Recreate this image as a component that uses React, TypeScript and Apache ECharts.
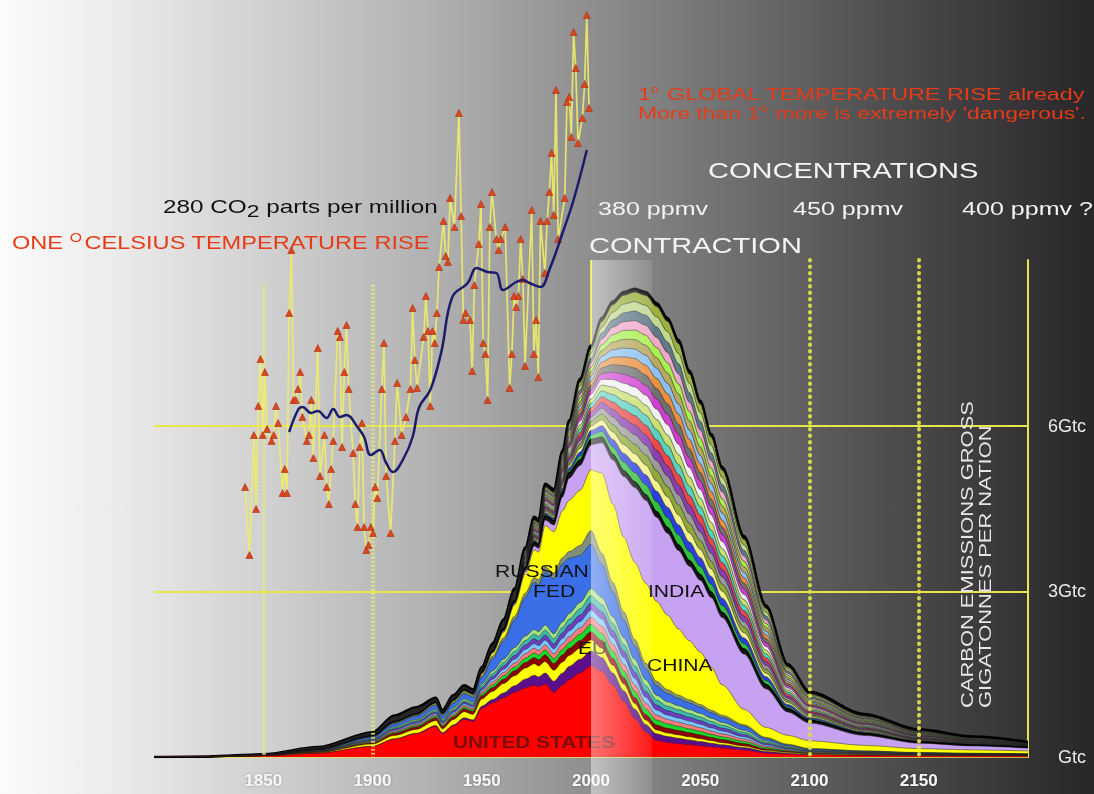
import React, { useEffect, useRef } from 'react';
import * as echarts from 'echarts';

const FONT = "'Liberation Sans', Arial, Helvetica, sans-serif";

// ---- emissions per nation (GtC), bottom to top ----
const years = [1800, 1825, 1850, 1875, 1900, 1910, 1920, 1929, 1932, 1937, 1942, 1946, 1950, 1955, 1960, 1965, 1970, 1974, 1976, 1979, 1983, 1987, 1990, 1995, 2000, 2005, 2010, 2015, 2020, 2025, 2030, 2035, 2040, 2045, 2050, 2055, 2060, 2070, 2080, 2090, 2100, 2125, 2150, 2175, 2200];
const unitedStates = [0, 0.005, 0.02, 0.07, 0.19, 0.32, 0.42, 0.55, 0.42, 0.56, 0.68, 0.64, 0.88, 0.98, 1.07, 1.17, 1.25, 1.3, 1.27, 1.32, 1.17, 1.3, 1.4, 1.52, 1.65, 1.55, 1.3, 1.0, 0.7, 0.45, 0.3, 0.26, 0.24, 0.22, 0.2, 0.18, 0.16, 0.12, 0.07, 0.05, 0.035, 0.028, 0.02, 0.018, 0.016];
const purpleNation = [0, 0, 0, 0, 0.005, 0.01, 0.01, 0.02, 0.02, 0.02, 0.03, 0.03, 0.04, 0.06, 0.09, 0.12, 0.16, 0.18, 0.18, 0.2, 0.2, 0.22, 0.24, 0.25, 0.27, 0.25, 0.22, 0.2, 0.17, 0.14, 0.12, 0.11, 0.1, 0.09, 0.08, 0.07, 0.06, 0.05, 0.03, 0.02, 0.012, 0.008, 0.006, 0.005, 0.004];
const yellowNation = [0, 0, 0.003, 0.01, 0.04, 0.06, 0.07, 0.09, 0.07, 0.1, 0.11, 0.1, 0.13, 0.15, 0.17, 0.18, 0.2, 0.21, 0.2, 0.21, 0.2, 0.2, 0.2, 0.2, 0.2, 0.17, 0.14, 0.12, 0.1, 0.08, 0.07, 0.065, 0.06, 0.055, 0.05, 0.045, 0.04, 0.03, 0.02, 0.015, 0.01, 0.008, 0.007, 0.006, 0.005];
const darkRedNation = [0, 0, 0.003, 0.01, 0.025, 0.04, 0.045, 0.05, 0.045, 0.05, 0.055, 0.055, 0.06, 0.07, 0.08, 0.09, 0.1, 0.11, 0.11, 0.12, 0.12, 0.13, 0.13, 0.14, 0.15, 0.14, 0.13, 0.12, 0.11, 0.1, 0.09, 0.085, 0.08, 0.075, 0.07, 0.06, 0.055, 0.045, 0.025, 0.018, 0.012, 0.008, 0.006, 0.005, 0.005];
const euStripe = [0, 0, 0.001, 0.005, 0.012, 0.02, 0.022, 0.026, 0.022, 0.027, 0.03, 0.028, 0.035, 0.05, 0.06, 0.07, 0.08, 0.085, 0.085, 0.09, 0.09, 0.1, 0.105, 0.115, 0.13, 0.13, 0.125, 0.12, 0.115, 0.105, 0.09, 0.08, 0.075, 0.07, 0.065, 0.058, 0.052, 0.04, 0.025, 0.015, 0.01, 0.007, 0.005, 0.004, 0.0035];
const russianFed = [0, 0, 0.003, 0.01, 0.03, 0.05, 0.06, 0.07, 0.06, 0.08, 0.09, 0.085, 0.12, 0.22, 0.33, 0.5, 0.7, 0.85, 0.85, 0.95, 1.0, 1.05, 1.0, 0.85, 0.8, 0.6, 0.45, 0.32, 0.24, 0.2, 0.17, 0.15, 0.13, 0.12, 0.11, 0.1, 0.09, 0.07, 0.04, 0.025, 0.015, 0.01, 0.007, 0.006, 0.005];
const greyNation = [0, 0, 0.002, 0.005, 0.01, 0.02, 0.02, 0.025, 0.02, 0.025, 0.03, 0.03, 0.035, 0.05, 0.06, 0.07, 0.08, 0.09, 0.09, 0.1, 0.1, 0.11, 0.12, 0.18, 0.25, 0.2, 0.17, 0.15, 0.12, 0.1, 0.08, 0.07, 0.06, 0.055, 0.05, 0.045, 0.04, 0.03, 0.02, 0.015, 0.01, 0.007, 0.005, 0.004, 0.003];
const china = [0, 0, 0, 0.002, 0.005, 0.01, 0.01, 0.015, 0.012, 0.02, 0.02, 0.02, 0.03, 0.05, 0.1, 0.2, 0.35, 0.5, 0.5, 0.75, 0.75, 0.85, 0.93, 1.0, 1.1, 1.45, 1.42, 1.35, 1.4, 1.45, 1.45, 1.35, 1.2, 1.07, 0.95, 0.78, 0.55, 0.28, 0.18, 0.16, 0.14, 0.1, 0.07, 0.06, 0.05];
const india = [0, 0, 0, 0, 0, 0, 0.002, 0.004, 0.004, 0.005, 0.006, 0.006, 0.01, 0.015, 0.02, 0.03, 0.05, 0.07, 0.07, 0.1, 0.12, 0.25, 0.4, 0.45, 0.45, 0.55, 0.8, 1.1, 1.35, 1.5, 1.52, 1.48, 1.42, 1.35, 1.3, 1.26, 1.22, 1.0, 0.7, 0.42, 0.32, 0.18, 0.1, 0.07, 0.05];
const blackNation = [0, 0, 0, 0, 0.005, 0.008, 0.01, 0.012, 0.01, 0.012, 0.015, 0.015, 0.02, 0.03, 0.04, 0.05, 0.06, 0.07, 0.07, 0.08, 0.08, 0.09, 0.1, 0.1, 0.1, 0.1, 0.1, 0.1, 0.1, 0.1, 0.1, 0.1, 0.1, 0.1, 0.1, 0.1, 0.09, 0.09, 0.08, 0.06, 0.05, 0.035, 0.025, 0.02, 0.018];
const otherNation = [0, 0.0002, 0.0004, 0.0017, 0.0024, 0.0044, 0.0046, 0.0022, 0.0014, 0.0026, 0.0022, 0.0016, 0.0025, 0.0043, 0.006, 0.008, 0.0155, 0.02, 0.0195, 0.026, 0.0255, 0.0345, 0.0445, 0.0705, 0.082, 0.105, 0.1355, 0.159, 0.172, 0.1805, 0.186, 0.187, 0.1825, 0.169, 0.1545, 0.14, 0.1287, 0.0993, 0.069, 0.0379, 0.0236, 0.0157, 0.0095, 0.0061, 0.0033];
const topNation = [0, 0.002, 0.005, 0.01, 0.02, 0.025, 0.03, 0.035, 0.03, 0.035, 0.04, 0.04, 0.045, 0.05, 0.055, 0.06, 0.06, 0.06, 0.06, 0.06, 0.06, 0.06, 0.06, 0.06, 0.06, 0.06, 0.06, 0.06, 0.06, 0.06, 0.06, 0.06, 0.06, 0.06, 0.06, 0.06, 0.06, 0.06, 0.055, 0.05, 0.045, 0.04, 0.035, 0.03, 0.028];

const euStripeColors = ['#19d828', '#ff7c7c', '#7cc6ff', '#6a3fc0', '#3fb8b0', '#a4e27e'];
const otherColors = ['#2fbf3a', '#2a3fe0', '#f4f08a', '#8ea83a', '#9a9a9a', '#8a3fb0', '#e84848', '#5ad0c0', '#c8e070', '#f0f0f0', '#d040d0', '#707070', '#e89040', '#8cc0f0', '#b8a860', '#a8f050', '#f0a8c8', '#607888', '#c0d890', '#9cb040'];

// ---- annual global temperature (°C anomaly, own scale) ----
const tempYears = [1850, 1852, 1854, 1855, 1856, 1857, 1858, 1859, 1860, 1862, 1863, 1864, 1865, 1867, 1868, 1869, 1870, 1871, 1872, 1873, 1874, 1875, 1876, 1878, 1879, 1880, 1881, 1883, 1884, 1886, 1887, 1888, 1889, 1890, 1892, 1893, 1894, 1895, 1896, 1897, 1899, 1900, 1901, 1902, 1903, 1904, 1905, 1906, 1907, 1908, 1909, 1910, 1912, 1913, 1914, 1916, 1918, 1919, 1921, 1923, 1925, 1926, 1927, 1928, 1931, 1932, 1933, 1934, 1935, 1936, 1937, 1938, 1940, 1941, 1942, 1943, 1945, 1947, 1948, 1949, 1950, 1952, 1953, 1954, 1956, 1957, 1958, 1959, 1960, 1961, 1962, 1964, 1965, 1966, 1968, 1970, 1971, 1972, 1973, 1974, 1975, 1976, 1977, 1980, 1981, 1982, 1983, 1984, 1986, 1987, 1988, 1989, 1990, 1991, 1992, 1995, 1996, 1997, 1998, 1999, 2000, 2001, 2003, 2004, 2005, 2006];
const tempValues = [-0.122, -0.258, -0.018, -0.166, 0.04, 0.134, -0.018, 0.108, -0.006, -0.03, -0.018, 0.04, 0.006, -0.134, -0.086, -0.134, 0.226, 0.352, 0.052, 0.052, 0.074, 0.108, 0.018, -0.03, -0.018, 0.052, -0.064, 0.156, -0.1, -0.018, -0.122, -0.156, -0.086, -0.03, 0.19, 0.178, -0.042, 0.108, 0.202, 0.074, -0.054, -0.156, -0.202, -0.042, 0.006, -0.202, -0.248, -0.238, -0.202, -0.214, -0.122, -0.144, 0.074, 0.166, -0.1, -0.214, -0.03, 0.086, -0.018, 0.018, 0.074, 0.236, 0.132, 0.076, 0.178, 0.26, 0.19, 0.04, 0.19, 0.166, 0.226, 0.318, 0.41, 0.34, 0.328, 0.456, 0.398, 0.626, 0.42, 0.212, 0.226, 0.212, 0.11, 0.282, 0.364, 0.444, 0.166, 0.144, 0.052, 0.398, 0.468, 0.374, 0.352, 0.374, 0.398, 0.076, 0.144, 0.26, 0.238, 0.26, 0.374, 0.294, 0.12, 0.432, 0.144, 0.212, 0.098, 0.41, 0.306, 0.41, 0.468, 0.546, 0.422, 0.672, 0.374, 0.456, 0.648, 0.658, 0.578, 0.788, 0.716, 0.566, 0.616, 0.684, 0.822, 0.636];
const smoothYears = [1870, 1874, 1876, 1880, 1883, 1887, 1890, 1893, 1896, 1901, 1904, 1907, 1911, 1914, 1917, 1922, 1926, 1929, 1934, 1939, 1944, 1951, 1955, 1960, 1964, 1967, 1973, 1976, 1979, 1984, 1988, 1994, 1999, 2005];
const smoothValues = [-0.012, 0.032, 0.038, 0.026, 0.03, 0.016, 0.034, 0.018, 0.022, -0.002, -0.022, -0.058, -0.048, -0.074, -0.092, -0.064, -0.022, 0.038, 0.072, 0.148, 0.258, 0.286, 0.316, 0.308, 0.306, 0.272, 0.288, 0.292, 0.286, 0.278, 0.312, 0.386, 0.452, 0.552];

// ---- reference marks ----
const contractionYears = [2000, 2028];
const contractionTop = [9, 9];
const pastYearLines = [1850, 1900];
const pastLineTop = 8.55;
const futureYearLines = [2100, 2150];
const futureLineTop = 9;
const gtcTicks: Record<number, string> = { 0: 'Gtc', 3: '3Gtc', 6: '6Gtc', 9: '' };

export default function App() {
  const ref = useRef<HTMLDivElement>(null);
  useEffect(() => {
    const chart = echarts.init(ref.current!, null, { renderer: 'svg' });

    // layers bottom -> top
    type Layer = { name: string; values: number[]; color: string; line: string; width: number };
    const layers: Layer[] = [];
    const add = (name: string, values: number[], color: string, line = 'rgba(30,30,30,0.8)', width = 0.6) =>
      layers.push({ name, values, color, line, width });
    add('United States', unitedStates, '#ff0000', 'rgba(120,0,0,0.6)');
    add('Nation P', purpleNation, '#5a108a');
    add('Nation Y', yellowNation, '#ffff00');
    add('Nation R', darkRedNation, '#8b0000');
    euStripeColors.forEach((c, k) => add('EU ' + (k + 1), euStripe, c));
    add('Russian Fed', russianFed, '#3a6fe8');
    add('Nation G', greyNation, '#7f8f7a');
    add('China', china, '#ffff00');
    add('India', india, '#c8a2f2');
    add('Nation K', blackNation, '#151515', '#000', 1.5);
    otherColors.forEach((c, k) => add('Other ' + (k + 1), otherNation, c, 'rgba(35,35,35,0.85)', 0.7));
    add('Others top', topNation, '#111111', '#000000', 2.5);

    // cumulative tops; draw highest first so lower layers cover the rest
    const running = years.map(() => 0);
    const cumulative = layers.map((l) => {
      l.values.forEach((v, i) => { running[i] += v; });
      return running.slice();
    });
    const stackSeries = layers
      .map((l, k) => ({
        type: 'line', name: l.name, xAxisIndex: 0, yAxisIndex: 0,
        data: years.map((y, i) => [y, cumulative[k][i]]),
        symbol: 'none', smooth: 0.3, smoothMonotone: 'x', silent: true,
        lineStyle: { color: l.line, width: l.width },
        areaStyle: { color: l.color, opacity: 1, origin: 'start' }, z: 2,
      }))
      .reverse();

    const pastStyle = { type: [2, 2], width: 4, color: 'rgba(238,238,110,0.75)' };
    const futureStyle = { type: [0.5, 6], width: 4, cap: 'round', color: 'rgba(222,222,70,0.95)' };
    const markData: any[] = [
      ...pastYearLines.map((y) => [{ coord: [y, pastLineTop], lineStyle: pastStyle }, { coord: [y, 0] }]),
      ...futureYearLines.map((y) => [{ coord: [y, futureLineTop], lineStyle: futureStyle }, { coord: [y, 0] }]),
    ];

    const text = (t: string, x: number, y: number, size: number, fill: string, extra: any = {}, z = 20, scaleX = 1.32) => ({
      type: 'text', x, y, scaleX, z, silent: true,
      style: { text: t, fontSize: size, fill, fontFamily: FONT, align: 'left', verticalAlign: 'middle', ...extra },
    });

    const redRich = {
      n: { fontSize: 16, fill: '#e63b16', fontFamily: FONT },
      s: { fontSize: 10, fill: '#e63b16', fontFamily: FONT, padding: [0, 1, 9, 0] },
    };

    const option: any = {
      animation: false,
      grid: [
        { left: 154, right: 66, top: 260, bottom: 37 },
        { left: 154, right: 66, top: 0, bottom: 0 },
      ],
      xAxis: [
        {
          gridIndex: 0, type: 'value', min: 1800, max: 2200, interval: 50,
          axisLine: { lineStyle: { color: '#e6e64a', width: 1.5 } },
          axisTick: { show: false },
          axisLabel: {
            margin: 15, color: '#f6f6f6', fontSize: 17, fontWeight: 'bold', fontFamily: FONT,
            textShadowColor: 'rgba(0,0,0,0.35)', textShadowBlur: 2,
            formatter: (v: number) => (v === 1800 || v === 2200 ? '' : String(v)),
          },
          splitLine: {
            show: true,
            lineStyle: { width: 2, color: ['rgba(0,0,0,0)', 'rgba(0,0,0,0)', 'rgba(0,0,0,0)', 'rgba(0,0,0,0)', '#e6e64a', 'rgba(0,0,0,0)', 'rgba(0,0,0,0)', 'rgba(0,0,0,0)', 'rgba(0,0,0,0)'] },
          },
        },
        { gridIndex: 1, type: 'value', min: 1800, max: 2200, show: false },
        { gridIndex: 1, type: 'value', min: 1808.7, max: 2205.1, show: false },
      ],
      yAxis: [
        {
          gridIndex: 0, type: 'value', position: 'right', min: 0, max: 9, interval: 3,
          axisLine: { show: true, lineStyle: { color: '#e6e64a', width: 2 } },
          axisTick: { show: false },
          axisLabel: {
            margin: 58, align: 'right', color: '#ececec', fontSize: 18, fontFamily: FONT,
            formatter: (v: number) => gtcTicks[v] ?? '',
          },
          splitLine: { show: true, lineStyle: { width: 2, color: ['rgba(0,0,0,0)', '#e6e64a', '#e6e64a', 'rgba(0,0,0,0)'] } },
        },
        { gridIndex: 1, type: 'value', min: -0.67, max: 13.708, show: false },
        { gridIndex: 1, type: 'value', min: -0.736, max: 0.852, show: false },
      ],
      graphic: [
        {
          type: 'rect', z: -100, silent: true,
          shape: { x: 0, y: 0, width: 1094, height: 794 },
          style: {
            fill: new echarts.graphic.LinearGradient(0, 0, 1, 0, [
              { offset: 0, color: '#fbfbfb' },
              { offset: 0.1, color: '#ececec' },
              { offset: 0.25, color: '#cfcfcf' },
              { offset: 0.4, color: '#b0b0b0' },
              { offset: 0.55, color: '#8c8c8c' },
              { offset: 0.7, color: '#686868' },
              { offset: 0.85, color: '#464445' },
              { offset: 1, color: '#29262a' },
            ]),
          },
        },
        {
          type: 'text', x: 12, y: 243, scaleX: 1.31, z: 20, silent: true,
          style: {
            text: '{n|ONE }{s|O}{n|CELSIUS TEMPERATURE RISE}', verticalAlign: 'middle',
            rich: {
              n: { fontSize: 18, fill: '#e63b16', fontFamily: FONT },
              s: { fontSize: 12, fill: '#e63b16', fontFamily: FONT, padding: [0, 2, 10, 0] },
            },
          },
        },
        {
          type: 'text', x: 163, y: 207, scaleX: 1.35, z: 20, silent: true,
          style: {
            text: '{n|280 CO}{b|2}{n| parts per million}', verticalAlign: 'middle',
            rich: {
              n: { fontSize: 18, fill: '#111', fontFamily: FONT },
              b: { fontSize: 17, fill: '#111', fontFamily: FONT, padding: [8, 0, 0, 0] },
            },
          },
        },
        {
          type: 'text', x: 638, y: 94, scaleX: 1.46, z: 20, silent: true,
          style: { text: '{n|1}{s|o}{n| GLOBAL TEMPERATURE RISE already}', verticalAlign: 'middle', rich: redRich },
        },
        {
          type: 'text', x: 638, y: 113, scaleX: 1.43, z: 20, silent: true,
          style: { text: "{n|More than 1}{s|o}{n| more is extremely 'dangerous'.}", verticalAlign: 'middle', rich: redRich },
        },
        text('CONCENTRATIONS', 708, 170, 22, '#f4f4f4'),
        text('380 ppmv', 598, 209, 19, '#f4f4f4'),
        text('450 ppmv', 793, 209, 19, '#f4f4f4'),
        text('400 ppmv ?', 962, 209, 19, '#f4f4f4'),
        text('CONTRACTION', 589, 245, 22, '#f4f4f4'),
        text('RUSSIAN', 495, 571, 16, '#111', {}, 2.5),
        text('FED', 533, 591, 16, '#111', {}, 2.5),
        text('INDIA', 648, 591, 16, '#111', {}, 2.5),
        text('CHINA', 647, 665, 16, '#111', {}, 2.5),
        text('EU', 578, 648, 16, '#111', {}, 2.5),
        text('UNITED STATES', 453, 742, 16, '#7a0c0c', { fontWeight: 'bold' }, 2.5, 1.3),
        {
          type: 'text', x: 958, y: 708, rotation: Math.PI / 2, scaleX: 1.29, z: 20, silent: true,
          style: {
            text: 'CARBON EMISSIONS GROSS\nGIGATONNES PER NATION', fontSize: 17, lineHeight: 18,
            fill: '#e6e6e6', fontFamily: FONT, align: 'left', verticalAlign: 'top',
          },
        },
      ],
      series: [
        ...stackSeries,
        {
          type: 'line', name: 'Contraction', xAxisIndex: 1, yAxisIndex: 1, silent: true,
          data: contractionYears.map((y, i) => [y, contractionTop[i]]),
          symbol: 'none', lineStyle: { width: 0 }, z: 3,
          areaStyle: {
            origin: 'start', opacity: 1,
            color: new echarts.graphic.LinearGradient(0, 0, 1, 0, [
              { offset: 0, color: 'rgba(255,255,255,0.45)' },
              { offset: 1, color: 'rgba(255,255,255,0.1)' },
            ]),
          },
          markLine: { silent: true, symbol: ['none', 'none'], label: { show: false }, data: markData },
        },
        {
          type: 'line', name: 'Temperature', xAxisIndex: 2, yAxisIndex: 2, silent: true,
          data: tempYears.map((y, i) => [y, tempValues[i]]),
          symbol: 'triangle', symbolSize: 7,
          lineStyle: { color: 'rgba(240,236,104,0.9)', width: 1.7 },
          itemStyle: { color: '#d8481c', borderColor: '#b02a10', borderWidth: 0.6 },
          z: 8,
        },
        {
          type: 'line', name: 'Temperature smoothed', xAxisIndex: 2, yAxisIndex: 2, silent: true,
          data: smoothYears.map((y, i) => [y, smoothValues[i]]),
          symbol: 'none', smooth: 0.4,
          lineStyle: { color: '#1c1c6a', width: 2.5 },
          z: 9,
        },
      ],
    };

    chart.setOption(option);
    return () => chart.dispose();
  }, []);

  return <div ref={ref} style={{ position: 'fixed', left: 0, top: 0, width: 1094, height: 794 }} />;
}
